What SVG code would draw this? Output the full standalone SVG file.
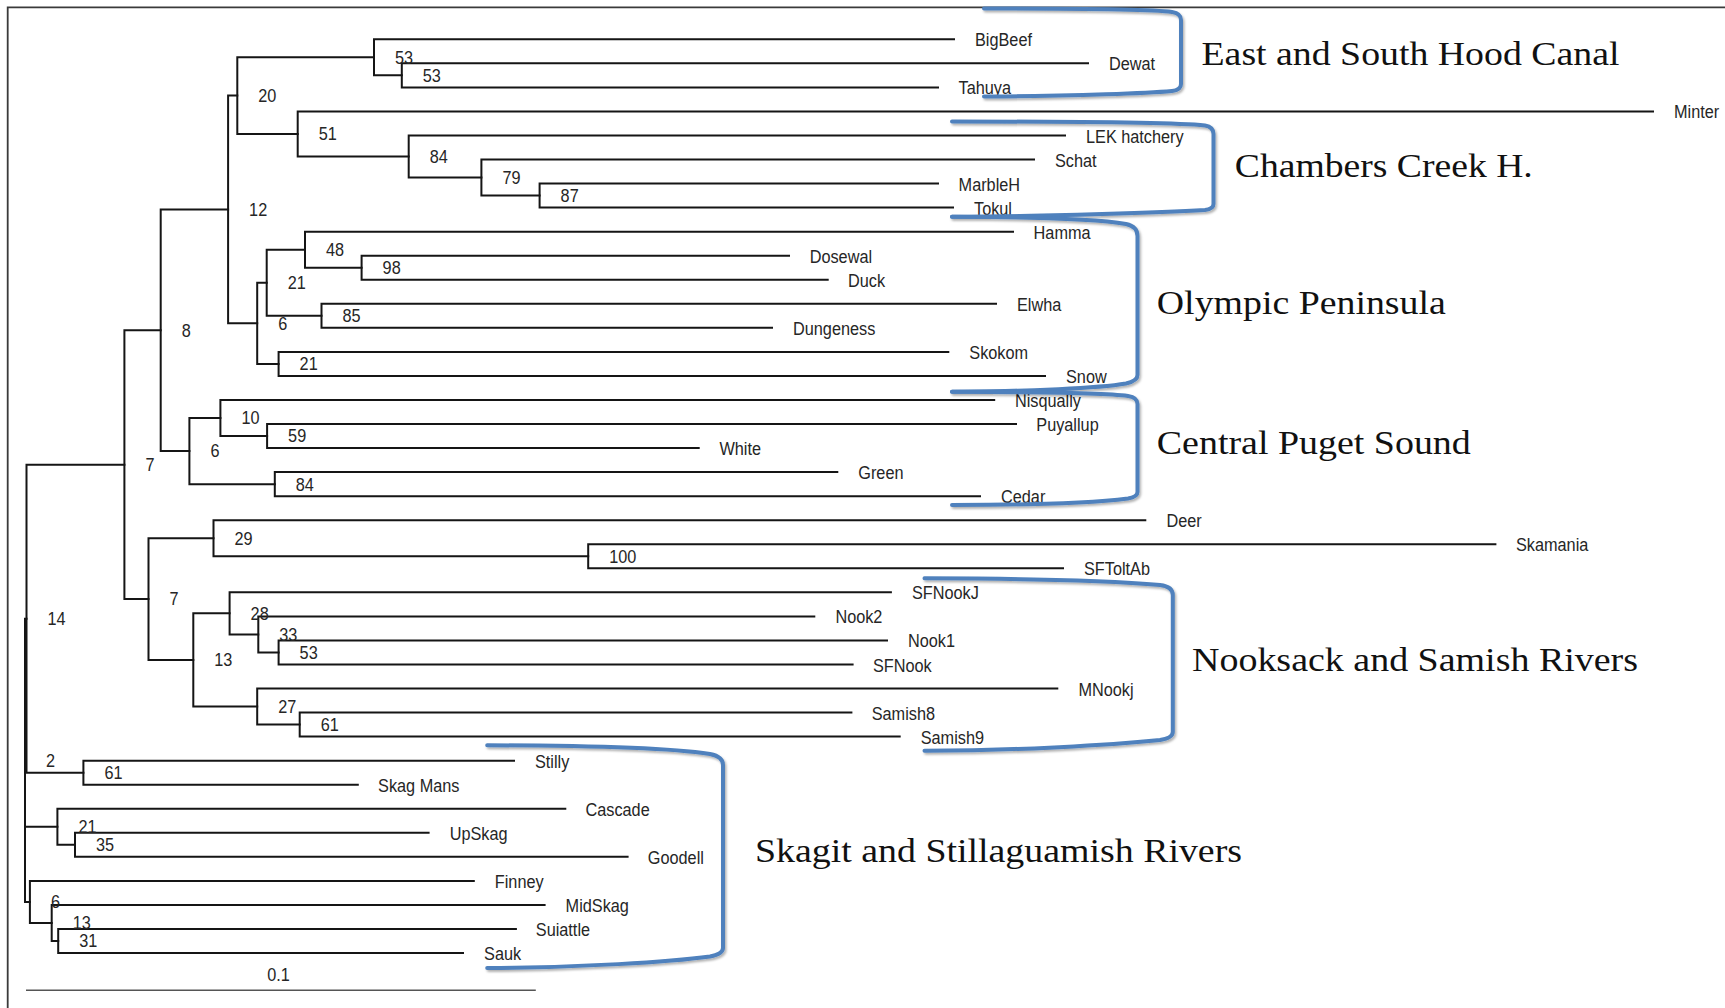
<svg xmlns="http://www.w3.org/2000/svg" width="1725" height="1008" viewBox="0 0 1725 1008">
<defs>
<style>
.br{fill:none;stroke:#151515;stroke-width:2;stroke-linecap:square}
.tip{font-family:"Liberation Sans",Arial,sans-serif;font-size:18.5px;fill:#262626}
.bs{font-family:"Liberation Sans",Arial,sans-serif;font-size:17.5px;fill:#262626}
.grp{font-family:"Liberation Serif","Times New Roman",serif;font-size:34.5px;fill:#111}
.bk{fill:none;stroke:#4f81bd;stroke-width:4;stroke-linecap:round;filter:url(#sh)}
</style>
<filter id="sh" x="-5%" y="-5%" width="110%" height="115%">
<feDropShadow dx="1.5" dy="2" stdDeviation="1.2" flood-color="#000" flood-opacity="0.3"/>
</filter>
</defs>
<rect width="1725" height="1008" fill="#fff"/>
<path d="M7.7,1010V7.3H1727" fill="none" stroke="#3a3a3a" stroke-width="1.8"/>

<g id="connectors" class="br">
<path d="M374,39.3V75.35M374,39.3H954M374,75.35H401.8"/>
<path d="M401.8,63.3V87.4M401.8,63.3H1088M401.8,87.4H938"/>
<path d="M539.6,183.6V207.6M539.6,183.6H938M539.6,207.6H953"/>
<path d="M481.4,159.5V195.6M481.4,159.5H1034M481.4,195.6H539.6"/>
<path d="M408.7,135.5V177.55M408.7,135.5H1065M408.7,177.55H481.4"/>
<path d="M297.7,111.4V156.5M297.7,111.4H1653M297.7,156.5H408.7"/>
<path d="M237.3,57.3V133.95M237.3,57.3H374M237.3,133.95H297.7"/>
<path d="M361.6,255.7V279.8M361.6,255.7H789M361.6,279.8H827.7"/>
<path d="M305,231.7V267.75M305,231.7H1013M305,267.75H361.6"/>
<path d="M321.5,303.8V327.8M321.5,303.8H996M321.5,327.8H772"/>
<path d="M266.7,249.7V315.8M266.7,249.7H305M266.7,315.8H321.5"/>
<path d="M278.6,351.9V375.9M278.6,351.9H948.3M278.6,375.9H1045"/>
<path d="M257.2,282.75V363.9M257.2,282.75H266.7M257.2,363.9H278.6"/>
<path d="M228.1,95.6V323.3M228.1,95.6H237.3M228.1,323.3H257.2"/>
<path d="M267.1,424V448.1M267.1,424H1016M267.1,448.1H698.7"/>
<path d="M220.4,400V436.05M220.4,400H994.2M220.4,436.05H267.1"/>
<path d="M274.8,472.1V496.2M274.8,472.1H837.3M274.8,496.2H980"/>
<path d="M189.4,418V484.15M189.4,418H220.4M189.4,484.15H274.8"/>
<path d="M160.7,209.45V451.1M160.7,209.45H228.1M160.7,451.1H189.4"/>
<path d="M588.2,544.2V568.3M588.2,544.2H1495.4M588.2,568.3H1063"/>
<path d="M213.5,520.2V556.25M213.5,520.2H1145.3M213.5,556.25H588.2"/>
<path d="M278.6,640.4V664.5M278.6,640.4H887M278.6,664.5H852.6"/>
<path d="M258.3,616.4V652.45M258.3,616.4H814.3M258.3,652.45H278.6"/>
<path d="M229.6,592.3V634.4M229.6,592.3H890.9M229.6,634.4H258.3"/>
<path d="M299.7,712.6V736.6M299.7,712.6H851.4M299.7,736.6H899.7"/>
<path d="M257.2,688.5V724.6M257.2,688.5H1057.3M257.2,724.6H299.7"/>
<path d="M193.3,613.35V706.55M193.3,613.35H229.6M193.3,706.55H257.2"/>
<path d="M148.5,538.2V659.95M148.5,538.2H213.5M148.5,659.95H193.3"/>
<path d="M124.4,330.3V599.1M124.4,330.3H160.7M124.4,599.1H148.5"/>
<path d="M83.4,760.7V784.7M83.4,760.7H514M83.4,784.7H357.8"/>
<path d="M26.5,464.7V772.7M26.5,464.7H124.4M26.5,772.7H83.4"/>
<path d="M75,832.8V856.8M75,832.8H428.6M75,856.8H627.6"/>
<path d="M57.4,808.8V844.8M57.4,808.8H565.3M57.4,844.8H75"/>
<path d="M58.2,929V953M58.2,929H515.9M58.2,953H463"/>
<path d="M51.7,904.9V941M51.7,904.9H544.6M51.7,941H58.2"/>
<path d="M29.9,880.9V922.95M29.9,880.9H473.8M29.9,922.95H51.7"/>
<path d="M25,618.7V901.9M25,618.7H26.5M25,826.8H57.4M25,901.9H29.9"/>
</g>

<g id="tips" class="tip">
<g id="tip-BigBeef"><text transform="translate(975,46.3) scale(.88,1)">BigBeef</text></g>
<g id="tip-Dewat"><text transform="translate(1109,70.3) scale(.88,1)">Dewat</text></g>
<g id="tip-Tahuya"><text transform="translate(958.6,94.4) scale(.88,1)">Tahuya</text></g>
<g id="tip-Minter"><text transform="translate(1674,118.4) scale(.88,1)">Minter</text></g>
<g id="tip-LEK"><text transform="translate(1086,142.5) scale(.88,1)">LEK hatchery</text></g>
<g id="tip-Schat"><text transform="translate(1055,166.5) scale(.88,1)">Schat</text></g>
<g id="tip-MarbleH"><text transform="translate(958.6,190.6) scale(.88,1)">MarbleH</text></g>
<g id="tip-Tokul"><text transform="translate(974,214.6) scale(.88,1)">Tokul</text></g>
<g id="tip-Hamma"><text transform="translate(1033.6,238.7) scale(.88,1)">Hamma</text></g>
<g id="tip-Dosewal"><text transform="translate(809.7,262.7) scale(.88,1)">Dosewal</text></g>
<g id="tip-Duck"><text transform="translate(848,286.8) scale(.88,1)">Duck</text></g>
<g id="tip-Elwha"><text transform="translate(1017,310.8) scale(.88,1)">Elwha</text></g>
<g id="tip-Dungeness"><text transform="translate(793,334.8) scale(.88,1)">Dungeness</text></g>
<g id="tip-Skokom"><text transform="translate(969.3,358.9) scale(.88,1)">Skokom</text></g>
<g id="tip-Snow"><text transform="translate(1066,382.9) scale(.88,1)">Snow</text></g>
<g id="tip-Nisqually"><text transform="translate(1015,407) scale(.88,1)">Nisqually</text></g>
<g id="tip-Puyallup"><text transform="translate(1036.3,431) scale(.88,1)">Puyallup</text></g>
<g id="tip-White"><text transform="translate(719.4,455.1) scale(.88,1)">White</text></g>
<g id="tip-Green"><text transform="translate(858.3,479.1) scale(.88,1)">Green</text></g>
<g id="tip-Cedar"><text transform="translate(1001,503.2) scale(.88,1)">Cedar</text></g>
<g id="tip-Deer"><text transform="translate(1166.4,527.2) scale(.88,1)">Deer</text></g>
<g id="tip-Skamania"><text transform="translate(1516,551.2) scale(.88,1)">Skamania</text></g>
<g id="tip-SFToltAb"><text transform="translate(1084,575.3) scale(.88,1)">SFToltAb</text></g>
<g id="tip-SFNookJ"><text transform="translate(912,599.3) scale(.88,1)">SFNookJ</text></g>
<g id="tip-Nook2"><text transform="translate(835.4,623.4) scale(.88,1)">Nook2</text></g>
<g id="tip-Nook1"><text transform="translate(908,647.4) scale(.88,1)">Nook1</text></g>
<g id="tip-SFNook"><text transform="translate(872.9,671.5) scale(.88,1)">SFNook</text></g>
<g id="tip-MNookj"><text transform="translate(1078.4,695.5) scale(.88,1)">MNookj</text></g>
<g id="tip-Samish8"><text transform="translate(871.7,719.6) scale(.88,1)">Samish8</text></g>
<g id="tip-Samish9"><text transform="translate(920.7,743.6) scale(.88,1)">Samish9</text></g>
<g id="tip-Stilly"><text transform="translate(535,767.7) scale(.88,1)">Stilly</text></g>
<g id="tip-SkagMans"><text transform="translate(378.1,791.7) scale(.88,1)">Skag Mans</text></g>
<g id="tip-Cascade"><text transform="translate(585.5,815.8) scale(.88,1)">Cascade</text></g>
<g id="tip-UpSkag"><text transform="translate(449.7,839.8) scale(.88,1)">UpSkag</text></g>
<g id="tip-Goodell"><text transform="translate(647.8,863.8) scale(.88,1)">Goodell</text></g>
<g id="tip-Finney"><text transform="translate(494.8,887.9) scale(.88,1)">Finney</text></g>
<g id="tip-MidSkag"><text transform="translate(565.6,911.9) scale(.88,1)">MidSkag</text></g>
<g id="tip-Suiattle"><text transform="translate(535.8,936) scale(.88,1)">Suiattle</text></g>
<g id="tip-Sauk"><text transform="translate(484.1,960) scale(.88,1)">Sauk</text></g>
</g>

<g id="bootstrap" class="bs">
<g id="n-A"><text transform="translate(395,63.6) scale(.93,1)">53</text></g>
<g id="n-B"><text transform="translate(422.8,81.7) scale(.93,1)">53</text></g>
<g id="n-87"><text transform="translate(560.6,201.9) scale(.93,1)">87</text></g>
<g id="n-79"><text transform="translate(502.4,183.9) scale(.93,1)">79</text></g>
<g id="n-84"><text transform="translate(429.7,162.8) scale(.93,1)">84</text></g>
<g id="n-51"><text transform="translate(318.7,140.3) scale(.93,1)">51</text></g>
<g id="n-20"><text transform="translate(258.3,101.9) scale(.93,1)">20</text></g>
<g id="n-98"><text transform="translate(382.6,274) scale(.93,1)">98</text></g>
<g id="n-48"><text transform="translate(326,256) scale(.93,1)">48</text></g>
<g id="n-85"><text transform="translate(342.5,322.1) scale(.93,1)">85</text></g>
<g id="n-21a"><text transform="translate(287.7,289) scale(.93,1)">21</text></g>
<g id="n-21b"><text transform="translate(299.6,370.2) scale(.93,1)">21</text></g>
<g id="n-6a"><text transform="translate(278.2,329.6) scale(.93,1)">6</text></g>
<g id="n-12"><text transform="translate(249.1,215.8) scale(.93,1)">12</text></g>
<g id="n-59"><text transform="translate(288.1,442.4) scale(.93,1)">59</text></g>
<g id="n-10"><text transform="translate(241.4,424.3) scale(.93,1)">10</text></g>
<g id="n-84c"><text transform="translate(295.8,490.5) scale(.93,1)">84</text></g>
<g id="n-6c"><text transform="translate(210.4,457.4) scale(.93,1)">6</text></g>
<g id="n-8"><text transform="translate(181.7,336.6) scale(.93,1)">8</text></g>
<g id="n-100"><text transform="translate(609.2,562.6) scale(.93,1)">100</text></g>
<g id="n-29"><text transform="translate(234.5,544.5) scale(.93,1)">29</text></g>
<g id="n-53n"><text transform="translate(299.6,658.8) scale(.93,1)">53</text></g>
<g id="n-33"><text transform="translate(279.3,640.7) scale(.93,1)">33</text></g>
<g id="n-28"><text transform="translate(250.6,619.7) scale(.93,1)">28</text></g>
<g id="n-61n"><text transform="translate(320.7,730.9) scale(.93,1)">61</text></g>
<g id="n-27"><text transform="translate(278.2,712.9) scale(.93,1)">27</text></g>
<g id="n-13n"><text transform="translate(214.3,666.3) scale(.93,1)">13</text></g>
<g id="n-7b"><text transform="translate(169.5,605.4) scale(.93,1)">7</text></g>
<g id="n-7a"><text transform="translate(145.4,471) scale(.93,1)">7</text></g>
<g id="n-61s"><text transform="translate(104.4,779) scale(.93,1)">61</text></g>
<g id="n-14"><text transform="translate(47.5,625) scale(.93,1)">14</text></g>
<g id="n-35"><text transform="translate(96,851.1) scale(.93,1)">35</text></g>
<g id="n-21s"><text transform="translate(78.4,833.1) scale(.93,1)">21</text></g>
<g id="n-31"><text transform="translate(79.2,947.3) scale(.93,1)">31</text></g>
<g id="n-13s"><text transform="translate(72.7,929.3) scale(.93,1)">13</text></g>
<g id="n-6s"><text transform="translate(50.9,908.2) scale(.93,1)">6</text></g>
<g id="n-2"><text transform="translate(46,766.6) scale(.93,1)">2</text></g>
</g>

<g id="scalebar">
<path d="M26,990.3H535.8" stroke="#555" stroke-width="1.4"/>
<text class="bs" text-anchor="middle" transform="translate(278.6,980.5) scale(.93,1)">0.1</text>
</g>

<g id="brackets" class="bk">
<path d="M984,8.5C1080,8.5 1150,9 1172,12Q1181,13.5 1181,20L1181,84Q1181,90 1172,91C1150,93 1080,96 984,96.5"/>
<path d="M952,121.5C1050,121.5 1170,122 1205,125.5Q1213.5,127 1213.5,134L1213.5,204Q1213.5,209 1205,210C1170,212 1050,216.5 952,216.7"/>
<path d="M952,216.7C1030,217 1100,219.5 1126,224Q1137.5,226.5 1137.5,236L1137.5,375Q1137.5,381 1126,383.5C1100,388 1030,391.5 952,391.7"/>
<path d="M952,391.7C1040,392 1110,393.5 1128,396Q1137.5,397.5 1137.5,404L1137.5,492Q1137.5,497 1128,498.5C1100,502 1040,505 952,505"/>
<path d="M924.5,578.3C1020,578.5 1110,580.5 1160,585Q1172.8,586.5 1172.8,595L1172.8,732Q1172.8,738 1160,740C1110,745 1020,750.5 924.5,750.7"/>
<path d="M487.2,745.3C580,745.5 670,748 710,754Q723,756.5 723,765L723,948Q723,954 710,956.5C670,962 580,967.5 487.2,968"/>
</g>

<g id="group-east"><text class="grp" x="1201.5" y="65" textLength="418" lengthAdjust="spacingAndGlyphs">East and South Hood Canal</text></g>
<g id="group-chambers"><text class="grp" x="1234.8" y="176.7" textLength="298" lengthAdjust="spacingAndGlyphs">Chambers Creek H.</text></g>
<g id="group-olympic"><text class="grp" x="1156.8" y="314.3" textLength="289" lengthAdjust="spacingAndGlyphs">Olympic Peninsula</text></g>
<g id="group-central"><text class="grp" x="1156.8" y="454" textLength="314" lengthAdjust="spacingAndGlyphs">Central Puget Sound</text></g>
<g id="group-nooksack"><text class="grp" x="1192" y="670.7" textLength="446" lengthAdjust="spacingAndGlyphs">Nooksack and Samish Rivers</text></g>
<g id="group-skagit"><text class="grp" x="755" y="862.3" textLength="487" lengthAdjust="spacingAndGlyphs">Skagit and Stillaguamish Rivers</text></g>
</svg>
